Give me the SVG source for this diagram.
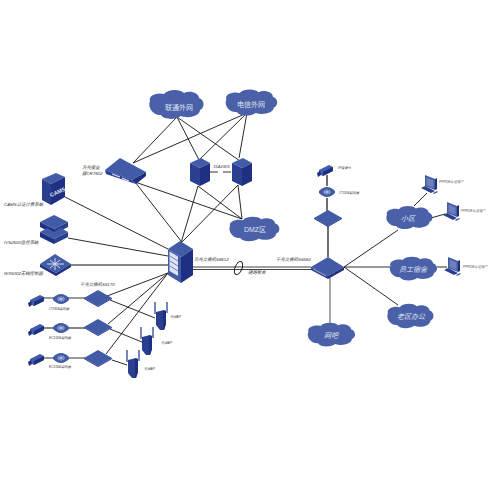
<svg xmlns="http://www.w3.org/2000/svg" width="494" height="477" viewBox="0 0 494 477">
<style>
.l{stroke:#111;stroke-width:.9;fill:none}
.g{stroke:#777;stroke-width:1.3;fill:none}
.k{stroke:#111;stroke-width:1.2;fill:none}
text{font-family:"Liberation Sans","Noto Sans CJK SC",sans-serif}
.t{font-size:4.400px;font-style:italic;fill:#333}
.s{font-size:3.300px;font-style:italic;fill:#444}
.c{font-size:7px;fill:#dfe4f2;text-anchor:middle}
.a{fill:#415ba6}.b{fill:#2a3f8f}.d{fill:#1f2f82}.e{fill:#4a60a8}
</style>
<defs>
<g id="cloud"><path class="e" d="M-26,-4C-28,-10 -18,-13 -12,-11C-8,-16 4,-16 8,-12C14,-15 23,-12 23,-7C29,-5 29,3 24,5C24,11 12,14 5,11C0,15 -12,15 -15,10C-22,11 -29,3 -26,-4Z"/></g>
<g id="sw"><path class="a" d="M0,-8L14,0L0,8L-14,0Z"/><path class="d" d="M-14,0L0,8L14,0L14,1L0,9L-14,1Z"/></g>
<g id="enc"><path class="a" d="M-8,-1C-6,-3 -3,-5 0,-5C3,-5 6,-3 8,-1L8,1C6,3 3,5 0,5C-3,5 -6,3 -8,1Z"/><path d="M-4,0H4M0,-3V3M-3,-2L3,2M3,-2L-3,2" stroke="#c9d4ee" stroke-width=".7"/></g>
<g id="cam"><path class="a" d="M-6,-1L4,-6L8,-4L8,0L-2,5L-6,3Z"/><path class="d" d="M-2,1L8,-4L8,0L-2,5Z"/><path class="d" d="M-8,2L-5,0L-4,4L-7,6Z"/></g>
<g id="srv"><path class="a" d="M-10,-9L1,-14L10,-9L0,-4Z"/><path class="b" d="M-10,-9L0,-4V14L-10,9Z"/><path class="d" d="M0,-4L10,-9V9L0,14Z"/></g>
<g id="ap"><path class="b" d="M-5,-4L3,-6L5,-5V8L3,14L-1,14L-5,9Z"/><path class="d" d="M2,-5.500L5,-5V8L3,14L2,14Z"/><path d="M-6,-14V-2M6,-14V-3" stroke="#3c55a0" stroke-width="1.400"/></g>
<g id="pc"><path class="a" d="M-4,-9L6,-5V6L-4,2Z"/><path fill="#6d80bb" d="M-2.500,-6.500L4.500,-3.700V4L-2.500,1Z"/><path class="d" d="M6,-5L8,-6V5L6,6Z"/><path class="b" d="M-8,4L-4,2L6,7L2,9Z"/><path class="a" d="M4,9L8,7L9,8L5,10Z"/></g>
</defs>

<g id="connectors">
<path class="l" d="M177,117L133,163M177,117L199,160M177,117L240,161M247,113L133,163M247,113L199,160M247,113L239,158"/>
<path class="l" d="M135,182L181,241M135,182L242,219M198,186L181,243M198,186L242,219M238,185L181,243M238,185L242,219"/>
<path class="l" d="M65,197L168,249M68,238L168,256"/><path class="k" d="M71,265H168"/>
<path class="l" d="M107,296L168,273M108,324L168,273M106,354L168,273M110,300L155,318M110,329L142,342M112,360L127,365"/>
<path class="g" d="M43,298H85M43,358H85"/><path class="k" d="M43,328H85"/>
<path d="M210,172H232" stroke="#777" stroke-width="1.500" stroke-dasharray="8 5" fill="none"/>
<path d="M193,267H311M193,269.500H311" stroke="#444" stroke-width="1" fill="none"/>
<ellipse cx="238.500" cy="268" rx="3.500" ry="7" transform="rotate(22 238.500 268)" fill="none" stroke="#111" stroke-width=".9"/>
<path class="k" d="M328,257V226M327,226V198M327,186V175"/><path class="g" d="M330,278V323M344,267H390"/>
<path class="l" d="M344,267L398,230M344,267L398,305M414,206L427,193M431,218L445,214M437,267H447"/>
</g>

<g id="n-unicom"><use href="#cloud" transform="translate(176,105)"/><text class="c" x="179" y="110">联通外网</text></g>
<g id="n-telecom"><use href="#cloud" transform="translate(251,103) scale(.95,.9)"/><text class="c" x="251" y="107">电信外网</text></g>
<g id="n-dmz"><use href="#cloud" transform="translate(254,229.500) scale(.92,.85)"/><text class="c" x="255" y="232">DMZ区</text></g>
<g id="n-xiaoqu"><use href="#cloud" transform="translate(409,218) scale(.85,.8)"/><text class="c" x="408" y="221" font-style="italic">小区</text></g>
<g id="n-dorm"><use href="#cloud" transform="translate(413,269) scale(.87,.82)"/><text class="c" x="413" y="272" font-style="italic">员工宿舍</text></g>
<g id="n-office"><use href="#cloud" transform="translate(410,316.500) scale(.85,.85)"/><text class="c" x="411" y="319" font-style="italic">老区办公</text></g>
<g id="n-netbar"><use href="#cloud" transform="translate(331,335) scale(.87,.82)"/><text class="c" x="331" y="338" font-style="italic">网吧</text></g>

<g id="n-router"><path class="a" d="M105,170L120,158L146,172L132,180Z"/><path class="d" d="M132,180L146,172V176L136,184Z"/><path class="b" d="M105,170L132,180L136,184L106,174Z"/><path d="M112,174L120,177M122,178L129,181" stroke="#dfe6f5" stroke-width="1.200"/>
<text class="t" x="82" y="169">万兆接业</text><text class="t" x="82" y="175">器CR7602</text></g>
<g id="n-fw1"><use href="#srv" x="200" y="172"/></g>
<g id="n-fw2"><use href="#srv" x="242" y="172"/></g>
<text id="n-fw-label" class="s" x="213" y="168" style="font-size:4.200px">15A2905</text>

<g id="n-cams"><path class="a" d="M42,179L56,173L65,177L51,184Z"/><path class="b" d="M42,179L51,184V205L42,200Z"/><path class="d" d="M51,184L65,177V197L51,205Z"/><text x="51" y="197" font-size="5.500" font-weight="bold" fill="#e4e9f6" transform="rotate(-24 51 197)">CAMS</text>
<text class="t" x="4" y="206">CAMS认证计费系统</text></g>
<g id="n-ivs"><path class="a" d="M40,222L54,215L68,222L54,229Z"/><path class="d" d="M40,222L54,229V234L40,227Z"/><path class="b" d="M54,229L68,222V227L54,234Z"/><path class="a" d="M40,232L47,228L54,232L61,228L68,232L54,239Z"/><path class="d" d="M40,232L54,239V244L40,237Z"/><path class="b" d="M54,239L68,232V237L54,244Z"/>
<text class="t" x="4" y="244">IVS2600监控系统</text></g>
<g id="n-wx"><path class="a" d="M40,264L55,254L71,264L56,273Z"/><path class="d" d="M40,264L56,273L71,264V267L56,276L40,267Z"/><path d="M47,264H64M55,258V270M50,260L60,268M60,260L50,268" stroke="#d6dff2" stroke-width="1"/>
<text class="t" x="4" y="275">WX5002无线控制器</text></g>

<g id="n-core"><path class="a" d="M168,249L180,241L193,249L181,257Z"/><path class="a" d="M168,249L181,257V283L168,275Z"/><path fill="#dde3f2" d="M169.500,251.500L178,256.500V276L169.500,271Z"/><path class="d" d="M181,257L193,249V275L181,283Z"/><path d="M170,256L178,261M170,261L178,266M170,266L178,271" stroke="#6d80bb" stroke-width="1"/>
<text class="t" x="194" y="261">万兆交换机S8612</text></g>
<g id="n-s5560"><path class="a" d="M328,257L344,267L328,276L311,267Z"/><path class="d" d="M328,276L344,267V270L328,279Z"/><path class="b" d="M311,267L328,276V279L311,270Z"/><path d="M313,269L326,276" stroke="#8fa0cf" stroke-width="1"/>
<text class="t" x="276" y="261">千兆交换机S5560</text></g>
<text id="n-lag" class="t" x="248" y="274">链路聚合</text>

<g id="n-sw1"><use href="#sw" x="98" y="298"/><text class="t" x="80" y="286">千兆交换机S5170</text></g>
<g id="n-sw2"><use href="#sw" x="98" y="327"/></g>
<g id="n-sw3"><use href="#sw" x="98" y="358"/></g>
<g id="n-enc1"><use href="#enc" x="61" y="299"/><text class="s" x="49" y="310">IT1004编码器</text></g>
<g id="n-enc2"><use href="#enc" x="61" y="328"/><text class="s" x="49" y="339">EC1004编码器</text></g>
<g id="n-enc3"><use href="#enc" x="61" y="358"/><text class="s" x="49" y="368">EC1004编码器</text></g>
<g id="n-cam1"><use href="#cam" x="36" y="301"/></g>
<g id="n-cam2"><use href="#cam" x="36" y="330"/></g>
<g id="n-cam3"><use href="#cam" x="36" y="360"/></g>
<g id="n-ap1"><use href="#ap" x="161" y="316"/><text class="s" x="170" y="318">无线AP</text></g>
<g id="n-ap2"><use href="#ap" x="147" y="341"/><text class="s" x="161" y="344">无线AP</text></g>
<g id="n-ap3"><use href="#ap" x="133" y="364"/><text class="s" x="144" y="370">无线AP</text></g>

<g id="n-sw4"><use href="#sw" x="328" y="218"/></g>
<g id="n-enc4"><use href="#enc" x="327" y="192"/><text class="s" x="339" y="194">IT1004编码器</text></g>
<g id="n-cam4"><use href="#cam" x="325" y="171"/><text class="s" x="338" y="169">IP摄像头</text></g>
<g id="n-pc1"><use href="#pc" x="429" y="184"/><text class="s" x="439" y="183">PPPOE认证用户</text></g>
<g id="n-pc2"><use href="#pc" x="451" y="211"/><text class="s" x="461" y="212">PPPOE认证用户</text></g>
<g id="n-pc3"><use href="#pc" x="452" y="266"/><text class="s" x="463" y="268">PPPOE认证用户</text></g>
</svg>
